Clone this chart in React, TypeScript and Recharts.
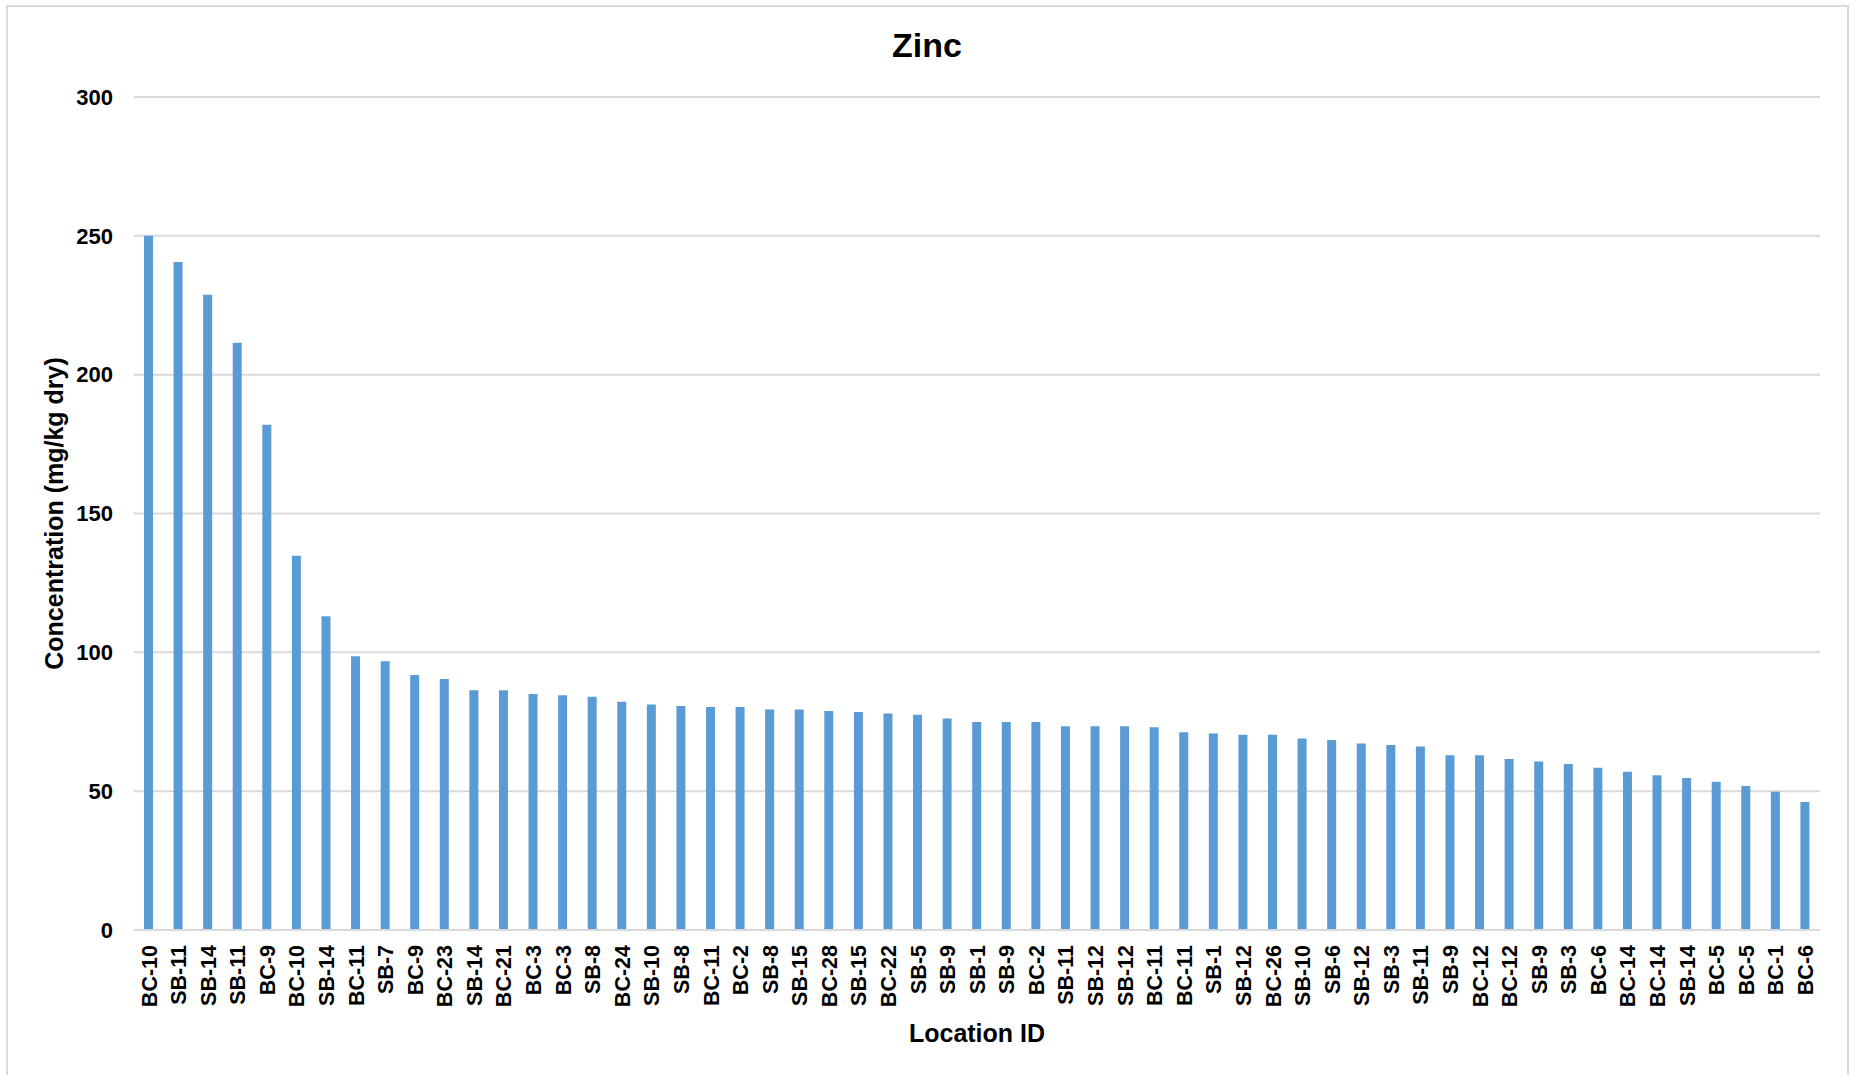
import React from 'react';
import { BarChart, Bar, XAxis, YAxis, CartesianGrid } from 'recharts';

const locationIds = [
  'BC-10', 'SB-11', 'SB-14', 'SB-11', 'BC-9', 'BC-10', 'SB-14', 'BC-11', 'SB-7', 'BC-9',
  'BC-23', 'SB-14', 'BC-21', 'BC-3', 'BC-3', 'SB-8', 'BC-24', 'SB-10', 'SB-8', 'BC-11',
  'BC-2', 'SB-8', 'SB-15', 'BC-28', 'SB-15', 'BC-22', 'SB-5', 'SB-9', 'SB-1', 'SB-9',
  'BC-2', 'SB-11', 'SB-12', 'SB-12', 'BC-11', 'BC-11', 'SB-1', 'SB-12', 'BC-26', 'SB-10',
  'SB-6', 'SB-12', 'SB-3', 'SB-11', 'SB-9', 'BC-12', 'BC-12', 'SB-9', 'SB-3', 'BC-6',
  'BC-14', 'BC-14', 'SB-14', 'BC-5', 'BC-5', 'BC-1', 'BC-6',
];

// zinc, mg/kg dry
const zincValues = [
  250, 240.6, 228.8, 211.5, 182, 134.8, 113, 98.6, 96.8, 91.8,
  90.4, 86.3, 86.3, 85.0, 84.5, 84.0, 82.2, 81.2, 80.7, 80.3,
  80.3, 79.4, 79.4, 78.9, 78.5, 78.0, 77.5, 76.2, 74.9, 74.9,
  74.9, 73.4, 73.4, 73.4, 73.0, 71.2, 70.8, 70.3, 70.3, 69.0,
  68.4, 67.2, 66.6, 66.1, 62.9, 62.9, 61.6, 60.7, 59.8, 58.4,
  57.0, 55.7, 54.7, 53.4, 51.9, 49.8, 46.1,
];

const yTicks = [0, 50, 100, 150, 200, 250, 300];

const data = locationIds.map((id, i) => ({ id, zinc: zincValues[i] }));

const FONT = '"Liberation Sans", Arial, Helvetica, sans-serif';
const GRID = '#d9d9d9';

const LocationTick = (props: any) => {
  const { x, y, payload } = props;
  return (
    <g transform={`translate(${x},${y})`}>
      <text
        transform="rotate(-90)"
        x={-15}
        y={0}
        dy="0.36em"
        textAnchor="end"
        fontFamily={FONT}
        fontSize={21.5}
        fontWeight={700}
        fill="#000"
      >
        {payload.value}
      </text>
    </g>
  );
};

export default function App() {
  return (
    <div style={{ position: 'absolute', left: 0, top: 0, width: 1855, height: 1075, overflow: 'hidden', background: '#fff' }}>
      <div
        style={{
          position: 'absolute', left: 6, top: 5, width: 1843, height: 1090,
          border: `2px solid ${GRID}`, boxSizing: 'border-box',
        }}
      />
      <div style={{ position: 'absolute', left: 0, top: 0 }}>
        <BarChart width={1855} height={1075} data={data} margin={{ top: 97, right: 35, bottom: 0, left: 0 }}>
          <CartesianGrid vertical={false} stroke={GRID} strokeWidth={2} />
          <XAxis
            dataKey="id"
            interval={0}
            height={145}
            tick={<LocationTick />}
            tickLine={false}
            tickSize={0}
            tickMargin={0}
            axisLine={{ stroke: GRID, strokeWidth: 2 }}
          />
          <YAxis
            width={134}
            domain={[0, 300]}
            ticks={yTicks}
            axisLine={false}
            tickLine={false}
            tickSize={0}
            tickMargin={21}
            tick={{ fontFamily: FONT, fontSize: 22, fontWeight: 700, fill: '#000' }}
          />
          <Bar dataKey="zinc" fill="#5b9bd5" barSize={9} isAnimationActive={false} />
        </BarChart>
      </div>
      <svg width={1855} height={1075} style={{ position: 'absolute', left: 0, top: 0, pointerEvents: 'none' }}>
        <text x={927} y={57} textAnchor="middle" fontFamily={FONT} fontSize={34} fontWeight={700} fill="#000">
          Zinc
        </text>
        <text
          transform="translate(63,513.5) rotate(-90)"
          textAnchor="middle"
          fontFamily={FONT}
          fontSize={25}
          fontWeight={700}
          fill="#000"
        >
          Concentration (mg/kg dry)
        </text>
        <text x={977} y={1042} textAnchor="middle" fontFamily={FONT} fontSize={25} fontWeight={700} fill="#000">
          Location ID
        </text>
      </svg>
    </div>
  );
}
